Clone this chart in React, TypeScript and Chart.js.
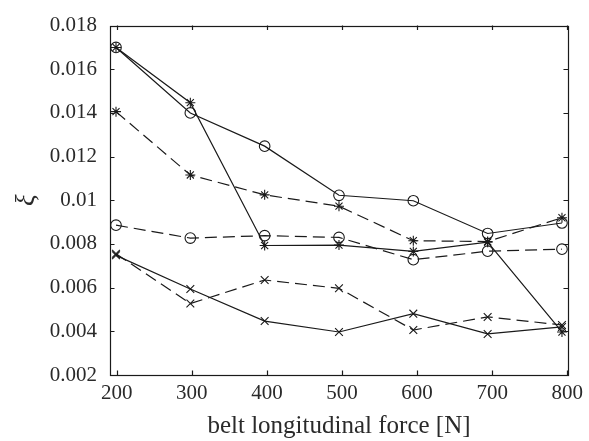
import React, { useEffect, useRef } from 'react';
import { Chart, registerables } from 'chart.js';

Chart.register(...registerables);

// Data
const forces = [199, 298, 397, 496, 595, 694, 793];
const solidCircle = [0.0170, 0.0140, 0.01248, 0.01023, 0.00998, 0.00848, 0.00896];
const solidStar = [0.0170, 0.01447, 0.00793, 0.00795, 0.00766, 0.00808, 0.00397];
const dashedStar = [0.01406, 0.01116, 0.01025, 0.00973, 0.00815, 0.00811, 0.0092];
const dashedCircle = [0.00886, 0.00827, 0.00838, 0.0083, 0.00728, 0.00767, 0.00776];
const dashedCross = [0.00755, 0.00527, 0.00635, 0.00597, 0.00406, 0.00466, 0.00429];
const solidCross = [0.00748, 0.00594, 0.00447, 0.00397, 0.00481, 0.00388, 0.0042];

const xTicks = [200, 300, 400, 500, 600, 700, 800];
const yTicks = [0.002, 0.004, 0.006, 0.008, 0.01, 0.012, 0.014, 0.016, 0.018];
const yTickLabels = ['0.002', '0.004', '0.006', '0.008', '0.01', '0.012', '0.014', '0.016', '0.018'];

const xTitle = 'belt longitudinal force [N]';
const yTitle = 'ξ';

const INK = '#1a1a1a';
const TEXT = '#2a2a2a';
const FONT = "'Liberation Serif', 'Times New Roman', serif";

const toPts = (ys: number[]) => ys.map((y, i) => ({ x: forces[i], y }));

const framePlugin = {
  id: 'frameTicks',
  afterDraw(chart: any) {
    const { ctx, chartArea } = chart;
    const { left, right, top, bottom } = chartArea;
    const xs = chart.scales.x;
    const ys = chart.scales.y;
    const tl = 4.5;
    ctx.save();
    ctx.strokeStyle = INK;
    ctx.lineWidth = 1.2;
    ctx.beginPath();
    xTicks.forEach((v) => {
      const p = Math.round(xs.getPixelForValue(v)) + 0.5;
      ctx.moveTo(p, bottom);
      ctx.lineTo(p, bottom - tl);
      ctx.moveTo(p, top);
      ctx.lineTo(p, top + tl);
    });
    yTicks.forEach((v) => {
      const p = Math.round(ys.getPixelForValue(v)) + 0.5;
      ctx.moveTo(left, p);
      ctx.lineTo(left + tl, p);
      ctx.moveTo(right, p);
      ctx.lineTo(right - tl, p);
    });
    ctx.stroke();
    ctx.strokeRect(Math.round(left) + 0.5, Math.round(top) + 0.5, Math.round(right - left), Math.round(bottom - top));
    ctx.restore();
  },
};

function makeDataset(ys: number[], style: string, dashed: boolean, radius: number) {
  return {
    data: toPts(ys),
    borderColor: INK,
    backgroundColor: 'rgba(0,0,0,0)',
    borderWidth: 1.2,
    borderDash: dashed ? [12, 6] : [],
    pointStyle: style,
    pointRadius: radius,
    pointBorderWidth: 1.1,
    pointBorderColor: INK,
    pointBackgroundColor: 'rgba(0,0,0,0)',
    tension: 0,
    fill: false,
  };
}

export default function App() {
  const canvasRef = useRef<HTMLCanvasElement | null>(null);

  useEffect(() => {
    const canvas = canvasRef.current;
    if (!canvas) return;
    const chart = new Chart(canvas, {
      type: 'line',
      data: {
        datasets: [
          makeDataset(solidCircle, 'circle', false, 5.3),
          makeDataset(solidStar, 'star', false, 5),
          makeDataset(dashedStar, 'star', true, 5),
          makeDataset(dashedCircle, 'circle', true, 5.3),
          makeDataset(dashedCross, 'crossRot', true, 5.5),
          makeDataset(solidCross, 'crossRot', false, 5.5),
        ] as any,
      },
      options: {
        animation: false,
        responsive: true,
        maintainAspectRatio: false,
        layout: { padding: { top: 20, right: 17, left: 0, bottom: 0 } },
        plugins: {
          legend: { display: false },
          tooltip: { enabled: false },
        },
        scales: {
          x: {
            type: 'linear',
            min: 191,
            max: 801,
            afterBuildTicks: (scale: any) => {
              scale.ticks = xTicks.map((v) => ({ value: v }));
            },
            afterFit: (scale: any) => {
              scale.height = 66;
            },
            grid: { display: false, drawTicks: false },
            border: { display: false },
            ticks: {
              color: TEXT,
              font: { family: FONT, size: 21 },
              padding: 6,
              maxRotation: 0,
              callback: (v: any) => String(v),
            },
            title: {
              display: true,
              text: xTitle,
              color: TEXT,
              font: { family: FONT, size: 25 },
              padding: { top: 0, bottom: 0 },
            },
          },
          y: {
            type: 'linear',
            min: 0.002,
            max: 0.018,
            afterBuildTicks: (scale: any) => {
              scale.ticks = yTicks.map((v) => ({ value: v }));
            },
            afterFit: (scale: any) => {
              scale.width = 110;
            },
            grid: { display: false, drawTicks: false },
            border: { display: false },
            ticks: {
              color: TEXT,
              font: { family: FONT, size: 21 },
              padding: 13,
              callback: (v: any) => {
                const i = yTicks.findIndex((t) => Math.abs(t - Number(v)) < 1e-9);
                return i >= 0 ? yTickLabels[i] : '';
              },
            },
            title: {
              display: true,
              text: yTitle,
              color: TEXT,
              font: { family: FONT, size: 27, style: 'italic' },
              padding: { top: 11, bottom: 0 },
            },
          },
        },
      },
      plugins: [framePlugin],
    });
    return () => chart.destroy();
  }, []);

  return (
    <div style={{ position: 'fixed', left: 0, top: 0, width: 589, height: 441, background: '#fff' }}>
      <canvas ref={canvasRef} />
    </div>
  );
}
